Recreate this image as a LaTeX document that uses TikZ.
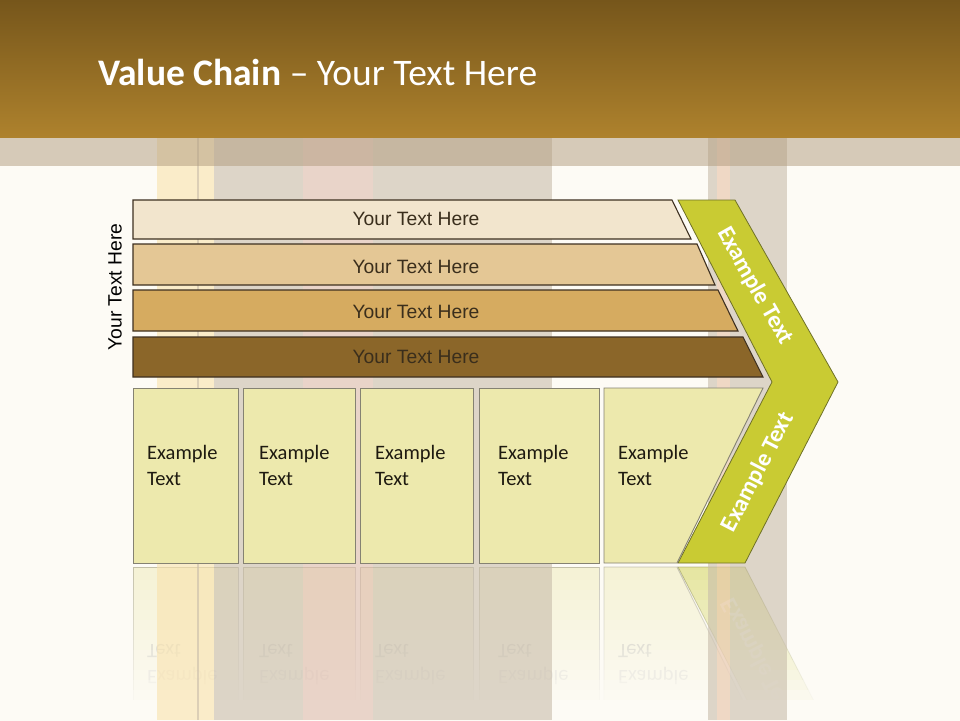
\documentclass[tikz,border=0pt]{standalone}
\usepackage{fontspec}
\setmainfont{Carlito}
\newfontfamily\barfont{Liberation Sans}

\definecolor{bgcol}{HTML}{FDFBF5}
\definecolor{headtop}{HTML}{76561B}
\definecolor{headbot}{HTML}{AE822D}
\definecolor{bandcol}{HTML}{B09A7C}
\definecolor{stripegrey}{HTML}{C8BCAA}
\definecolor{stripeyel}{HTML}{F9E2AC}
\definecolor{stripepink}{HTML}{DDBAAC}
\definecolor{stripepeach}{HTML}{E6C2A5}
\definecolor{barA}{HTML}{F2E5CD}
\definecolor{barB}{HTML}{E4C795}
\definecolor{barC}{HTML}{D6AB60}
\definecolor{barD}{HTML}{8B6629}
\definecolor{barline}{HTML}{3E3020}
\definecolor{bartxt}{HTML}{3A2E1C}
\definecolor{boxfill}{HTML}{EDE9AD}
\definecolor{boxline}{HTML}{858272}
\definecolor{boxtxt}{HTML}{1E1A10}
\definecolor{chevfill}{HTML}{C9CB33}
\definecolor{chevline}{HTML}{6F7127}

\begin{document}
\begin{tikzpicture}[x=1pt, y=-1pt,
    bar/.style={draw=barline, line width=1.1pt},
    bartext/.style={font=\barfont\fontsize{19.3}{22}\selectfont, text=bartxt, anchor=base, inner sep=0pt},
    exbox/.style={draw=boxline, fill=boxfill, line width=0.9pt},
    extext/.style={font=\fontsize{20.5}{26}\selectfont, text=boxtxt, align=left, anchor=north west, inner sep=0pt},
    chevron/.style={draw=chevline, fill=chevfill, line width=0.8pt},
    chevtext/.style={font=\bfseries\fontsize{24}{26}\selectfont, text=white, inner sep=0pt}]

    \useasboundingbox (0,0) rectangle (960,720);
    \fill[bgcol] (0,0) rectangle (960,720);

    % mirrored boxes under the chain
    \begin{scope}[shift={(0,1130)}, yscale=-1, transform shape, opacity=0.45]
        \draw[exbox] (133,388) rectangle (238,563);
        \draw[exbox] (243,388) rectangle (355,563);
        \draw[exbox] (360,388) rectangle (473,563);
        \draw[exbox] (479,388) rectangle (599,563);
        \draw[exbox] (604,388) -- (763,388) -- (677,563) -- (604,563) -- cycle;
        \draw[chevron] (678,200) -- (735,200) -- (838,382) -- (745,563) -- (678,563) -- (772,382) -- cycle;
        \node[extext, text=gray] (r1) at (147,445) {Example\\Text};
        \node[extext, text=gray] (r2) at (259,445) {Example\\Text};
        \node[extext, text=gray] (r3) at (375,445) {Example\\Text};
        \node[extext, text=gray] (r4) at (498,445) {Example\\Text};
        \node[extext, text=gray] (r5) at (618,445) {Example\\Text};
        \node[chevtext, rotate=62.7] (r6) at (758,472) {Example Text};
    \end{scope}
    \foreach \k in {1,...,14}
        \fill[bgcol, opacity=\k/14] (0,560+\k*10) rectangle (960,570+\k*10);
    \fill[bgcol] (0,708) rectangle (960,730);

    % stripes behind
    \fill[stripeyel, opacity=0.6] (157,137) rectangle (214,720);
    \fill[stripegrey, opacity=0.6] (214,137) rectangle (303,720);
    \fill[stripepink, opacity=0.6] (303,137) rectangle (373,720);
    \fill[stripegrey, opacity=0.6] (373,137) rectangle (552,720);
    \fill[stripegrey, opacity=0.6] (708,137) rectangle (717,720);
    \fill[stripepeach, opacity=0.6] (717,137) rectangle (730,720);
    \fill[stripegrey, opacity=0.6] (730,137) rectangle (787,720);
    \draw[stripegrey, line width=1.5pt, opacity=0.6] (198,137) -- (198,720);
    \fill[bandcol, opacity=0.5] (0,137) rectangle (960,166);

    % header
    \shade[top color=headtop, bottom color=headbot] (0,0) rectangle (960,137);
    \node[anchor=base west, inner sep=0pt, text=white, font=\fontsize{37.5}{42}\selectfont] (title) at (98,85) {\textbf{Value Chain} -- Your Text Here};

    % bars
    \draw[bar, fill=barA] (133,200) -- (672,200) -- (691,239) -- (133,239) -- cycle;
    \draw[bar, fill=barB] (133,244) -- (697,244) -- (715,285) -- (133,285) -- cycle;
    \draw[bar, fill=barC] (133,290) -- (718,290) -- (738,331) -- (133,331) -- cycle;
    \draw[bar, fill=barD] (133,337) -- (743,337) -- (763,377) -- (133,377) -- cycle;
    \node[bartext] (t1) at (416,225) {Your Text Here};
    \node[bartext] (t2) at (416,273) {Your Text Here};
    \node[bartext] (t3) at (416,318) {Your Text Here};
    \node[bartext] (t4) at (416,363) {Your Text Here};
    \node[bartext, text=black, rotate=90] (side) at (121.5,287) {Your Text Here};

    % chevron
    \draw[chevron] (678,200) -- (735,200) -- (838,382) -- (745,563) -- (678,563) -- (772,382) -- cycle;
    \node[chevtext, rotate=-60.4] (c1) at (755,286) {Example Text};
    \node[chevtext, rotate=62.7] (c2) at (758,472) {Example Text};

    % boxes
    \draw[exbox] (133,388) rectangle (238,563);
    \draw[exbox] (243,388) rectangle (355,563);
    \draw[exbox] (360,388) rectangle (473,563);
    \draw[exbox] (479,388) rectangle (599,563);
    \draw[exbox] (604,388) -- (763,388) -- (677,563) -- (604,563) -- cycle;
    \node[extext] (e1) at (147,445) {Example\\Text};
    \node[extext] (e2) at (259,445) {Example\\Text};
    \node[extext] (e3) at (375,445) {Example\\Text};
    \node[extext] (e4) at (498,445) {Example\\Text};
    \node[extext] (e5) at (618,445) {Example\\Text};

\end{tikzpicture}
\end{document}
